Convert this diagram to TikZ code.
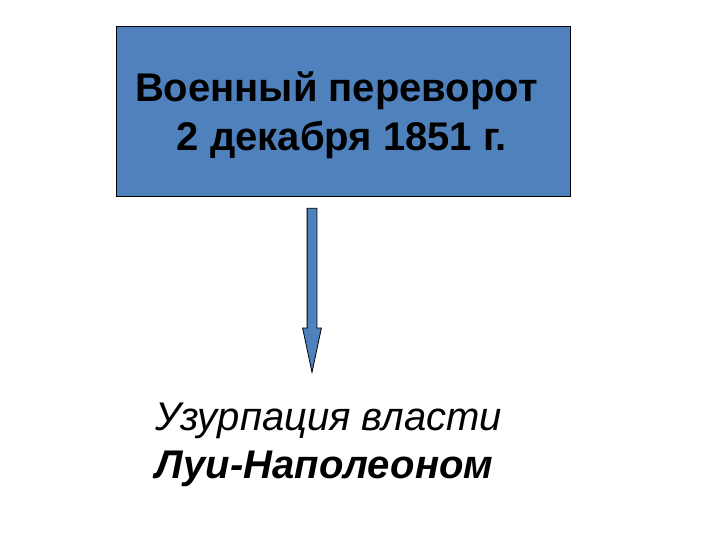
\documentclass[tikz,border=0pt]{standalone}
\usepackage{fontspec}
\setmainfont{Liberation Sans}
\usetikzlibrary{shapes.arrows,positioning}
\definecolor{boxblue}{RGB}{79,129,189}
\begin{document}
\begin{tikzpicture}[x=1bp,y=-1bp,
  eventbox/.style={draw=black,line width=0.8bp,fill=boxblue,minimum width=454bp,minimum height=170bp},
  boxtext/.style={align=center,font=\fontsize{40bp}{49bp}\selectfont\bfseries},
  downarrow/.style={single arrow,draw=black,line width=0.8bp,fill=boxblue,inner sep=4.5bp,minimum height=164bp,minimum width=18bp,single arrow head extend=4.5bp,single arrow tip angle=24,shape border rotate=270},
  result/.style={align=left,anchor=base west,font=\fontsize{40bp}{48bp}\selectfont\itshape}]
  \useasboundingbox (0,0) rectangle (720,540);
  \node[eventbox] (coup) at (343,111.5) {};
  \node[boxtext] (couptext) at (342,115) {Военный переворот\hspace*{.28em}\\2 декабря 1851 г.};
  \node[downarrow,anchor=tail] (arr) at ([xshift=-31bp,yshift=-11bp]coup.south) {};
  \node[result] (usurp) at (152,478) {Узурпация власти\\\textbf{Луи-Наполеоном}};
\end{tikzpicture}
\end{document}
